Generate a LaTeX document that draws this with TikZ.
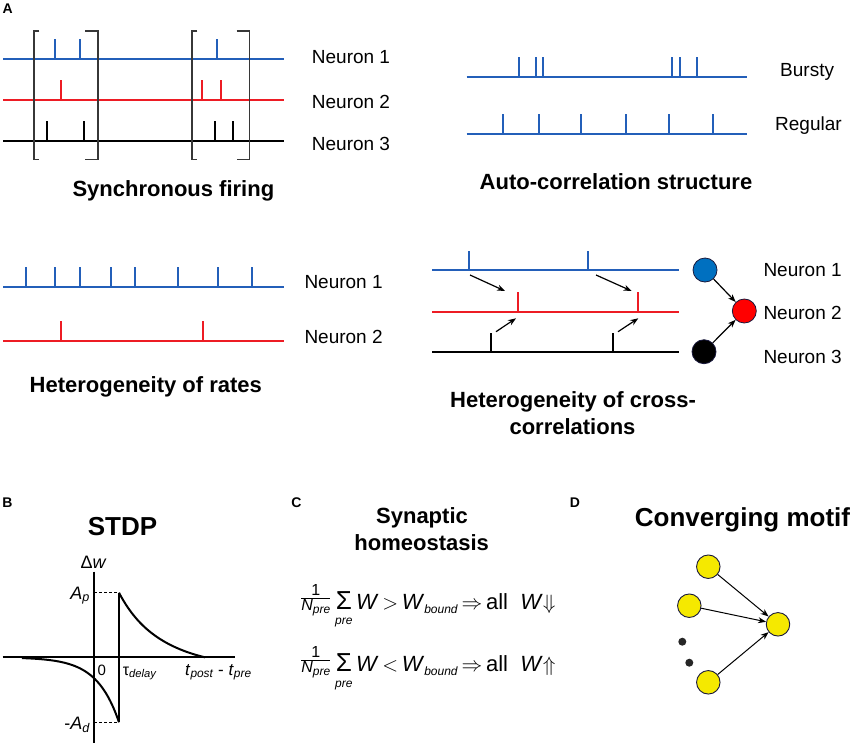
\documentclass[tikz,border=0pt]{standalone}
\usepackage{amsmath}
\usepackage{fontspec}
\setmainfont{Liberation Sans}
\usetikzlibrary{arrows.meta}
\definecolor{nblue}{RGB}{35,95,185}
\definecolor{nred}{RGB}{237,28,36}
\definecolor{cblue}{RGB}{0,112,192}
\definecolor{cred}{RGB}{255,0,0}
\definecolor{cyel}{RGB}{245,233,0}
\definecolor{brk}{RGB}{55,55,55}
\definecolor{rim}{RGB}{25,25,60}
\newcommand\mysbs[1]{\raisebox{-4pt}{\fontsize{12}{12}\selectfont\textit{#1}}}
\newcommand\myfrac{\raisebox{6pt}{$\genfrac{}{}{0.8pt}{1}{\text{\fontsize{16}{16}\selectfont 1}}{\text{\fontsize{16}{16}\selectfont\textit{N}\raisebox{-3pt}{\fontsize{12}{12}\selectfont\textit{pre}}}}$}}
\newcommand\mysum{$\mathop{\text{\fontsize{26}{26}\selectfont Σ}}\limits_{\raisebox{-3pt}{\fontsize{12}{12}\selectfont\textit{pre}}}$}
\begin{document}
\begin{tikzpicture}[x=1pt,y=-1pt,
  train/.style={line width=2pt},
  lab/.style={font=\fontsize{19}{22}\selectfont, anchor=base west, inner sep=0},
  ttl/.style={font=\fontsize{22}{26}\selectfont\bfseries, anchor=base, inner sep=0},
  bigttl/.style={font=\fontsize{26}{30}\selectfont\bfseries, anchor=base, inner sep=0},
  pletter/.style={font=\fontsize{14}{16}\selectfont\bfseries, inner sep=0},
  brkt/.style={brk, line width=1.6pt},
  arr/.style={-{Stealth[length=8pt,width=6pt]}, line width=1.2pt},
  neur/.style={circle, draw=rim, line width=0.8pt, minimum size=24pt, inner sep=0},
  ynode/.style={circle, fill=cyel, draw=rim, line width=0.9pt, minimum size=23.5pt, inner sep=0},
  dotnode/.style={circle, fill=black!85, minimum size=8pt, inner sep=0},
  ax/.style={line width=2.3pt},
  crv/.style={line width=2pt},
  blab/.style={inner sep=0, font=\fontsize{18}{20}\selectfont},
  slab/.style={inner sep=0, anchor=base west, font=\fontsize{16}{18}\selectfont},
  eqn/.style={anchor=base west, inner sep=0, font=\fontsize{22}{26}\selectfont},
  ]
\useasboundingbox (0,0) rectangle (850,747);

% panel letters
\node[pletter] (pA) at (7.7,8.7) {A};
\node[pletter] (pB) at (7.5,502.5) {B};
\node[pletter] (pC) at (296.5,502.5) {C};
\node[pletter] (pD) at (575,502.5) {D};

% ---------- Synchronous firing ----------
\draw[train,nblue] (3,59.3) -- (284,59.3);
\foreach \x in {55.3,80,217.3} \draw[train,nblue] (\x,59.3) -- (\x,38.7);
\draw[train,nred] (3,100) -- (284,100);
\foreach \x in {61,202.3,221} \draw[train,nred] (\x,100) -- (\x,80);
\draw[train] (3,141.3) -- (284,141.3);
\foreach \x in {46.7,83.7,215,233.3} \draw[train] (\x,141.3) -- (\x,120.7);
\draw[brkt] (39.3,30.7) -- (34,30.7) -- (34,159.3) -- (39.3,159.3);
\draw[brkt] (85.3,30.7) -- (98,30.7) -- (98,159.3) -- (85.3,159.3);
\draw[brkt] (197.3,30.7) -- (192,30.7) -- (192,159.3) -- (197.3,159.3);
\draw[brkt] (236.7,30.7) -- (249.3,30.7) -- (249.3,159.3) -- (236.7,159.3);
\node[lab] (s1) at (311.7,63.5) {Neuron 1};
\node[lab] (s2) at (311.7,108.5) {Neuron 2};
\node[lab] (s3) at (311.7,150) {Neuron 3};
\node[ttl] (tsync) at (173.4,196) {Synchronous firing};

% ---------- Auto-correlation ----------
\draw[train,nblue] (466.7,77.3) -- (746.7,77.3);
\foreach \x in {518.7,535.7,543.3,672.3,680.3,697.3} \draw[train,nblue] (\x,77.3) -- (\x,56.7);
\draw[train,nblue] (466.7,133.7) -- (746.7,133.7);
\foreach \x in {503.3,539,581.3,626.3,669,712.7} \draw[train,nblue] (\x,133.7) -- (\x,114);
\node[lab] (bursty) at (780,76.7) {Bursty};
\node[lab] (regular) at (775,130) {Regular};
\node[ttl] (tauto) at (616,189) {Auto-correlation structure};

% ---------- Heterogeneity of rates ----------
\draw[train,nblue] (3,286.7) -- (284,286.7);
\foreach \x in {25.7,55.3,80,111,135,178.3,218,252.3} \draw[train,nblue] (\x,286.7) -- (\x,267.3);
\draw[train,nred] (3,341) -- (284,341);
\foreach \x in {61.3,202.7} \draw[train,nred] (\x,341) -- (\x,320.7);
\node[lab] (r1) at (304.3,288.5) {Neuron 1};
\node[lab] (r2) at (304.3,343.5) {Neuron 2};
\node[ttl] (trates) at (145.8,392.7) {Heterogeneity of rates};

% ---------- Heterogeneity of cross-correlations ----------
\draw[train,nblue] (432.3,270) -- (679,270);
\foreach \x in {468.5,587.7} \draw[train,nblue] (\x,270) -- (\x,251);
\draw[train,nred] (432.3,312) -- (679,312);
\foreach \x in {517.7,638.3} \draw[train,nred] (\x,312) -- (\x,291.7);
\draw[train] (432.3,352.3) -- (679,352.3);
\foreach \x in {491,613.3} \draw[train] (\x,352.3) -- (\x,333.3);
\coordinate (a1s) at (470,275);   \coordinate (a1e) at (505,291);
\coordinate (a2s) at (596,275);   \coordinate (a2e) at (631.7,291);
\coordinate (a3s) at (496,331.7); \coordinate (a3e) at (516,318.3);
\coordinate (a4s) at (618,331.7); \coordinate (a4e) at (638.3,318.3);
\draw[arr] (a1s) -- (a1e);
\draw[arr] (a2s) -- (a2e);
\draw[arr] (a3s) -- (a3e);
\draw[arr] (a4s) -- (a4e);
\node[neur, fill=cblue] (n1) at (705,270) {};
\node[neur, fill=cred] (n2) at (744.3,311) {};
\node[neur, fill=black] (n3) at (704,351.7) {};
\draw[arr] (n1) -- (n2);
\draw[arr] (n3) -- (n2);
\node[lab] (c1) at (763.3,276.8) {Neuron 1};
\node[lab] (c2) at (763.3,319.3) {Neuron 2};
\node[lab] (c3) at (763.3,363.5) {Neuron 3};
\node[ttl] (tcross1) at (573,407.7) {Heterogeneity of cross-};
\node[ttl] (tcross2) at (572.5,434.3) {correlations};

% ---------- B: STDP ----------
\node[bigttl] (tstdp) at (122.5,535) {STDP};
\draw[ax] (94.3,571.7) -- (94.3,743.3);
\draw[ax] (2.7,657.3) -- (235,657.3);
\draw[line width=1.4pt] (119,592.7) -- (119,722.3);
\draw[line width=1pt, dash pattern=on 3pt off 2pt] (94.3,592.7) -- (119,592.7);
\draw[line width=1pt, dash pattern=on 3pt off 2pt] (94.3,722.3) -- (119,722.3);
\draw[crv, domain=119:205, samples=70, smooth] plot (\x, {657.3 - 64.6*exp(-(\x-119)/34)*(1-((\x-119)/86)^4)});
\draw[crv, domain=22:119, samples=70, smooth] plot (\x, {657.3 + 65*exp((\x-119)/22)});
\node[blab] (dw) at (93.5,562) {Δ\textit{w}};
\node[blab, anchor=base east] (ap) at (90,599.3) {\textit{A}$_{\textit{p}}$};
\node[blab, anchor=base east] (ad) at (90,729) {-\textit{A}$_{\textit{d}}$};
\node[slab, font=\fontsize{15}{18}\selectfont] (zero) at (97.3,675) {0};
\node[slab] (tau) at (122.7,675) {τ$_{\textit{delay}}$};
\node[slab, font=\fontsize{17}{20}\selectfont] (tpp) at (185,675) {\textit{t}$_{\textit{post}}$ - \textit{t}$_{\textit{pre}}$};

% ---------- C: Synaptic homeostasis ----------
\node[ttl] (tsyn1) at (422,523.3) {Synaptic};
\node[ttl] (tsyn2) at (421.7,550.7) {homeostasis};
\node[eqn] (eq1) at (300,609.3) {\myfrac\,\mysum\,\textit{W}\,$>$\,\textit{W}\mysbs{bound}\,$\Rightarrow$\,all\ \ \textit{W}$\Downarrow$};
\node[eqn] (eq2) at (300,671.7) {\myfrac\,\mysum\,\textit{W}\,$<$\,\textit{W}\mysbs{bound}\,$\Rightarrow$\,all\ \ \textit{W}$\Uparrow$};

% ---------- D: Converging motif ----------
\node[bigttl] (tconv) at (742.5,526.7) {Converging motif};
\node[ynode] (y1) at (708.3,566.7) {};
\node[ynode] (y2) at (689.3,605.7) {};
\node[ynode] (y3) at (708.3,682.3) {};
\node[ynode] (yt) at (778,624.3) {};
\node[dotnode] (d1) at (682.3,641.7) {};
\node[dotnode] (d2) at (689.3,662.7) {};
\draw[arr, line width=1pt] (y1) -- (yt);
\draw[arr, line width=1pt] (y2) -- (yt);
\draw[arr, line width=1pt] (y3) -- (yt);
\end{tikzpicture}
\end{document}
